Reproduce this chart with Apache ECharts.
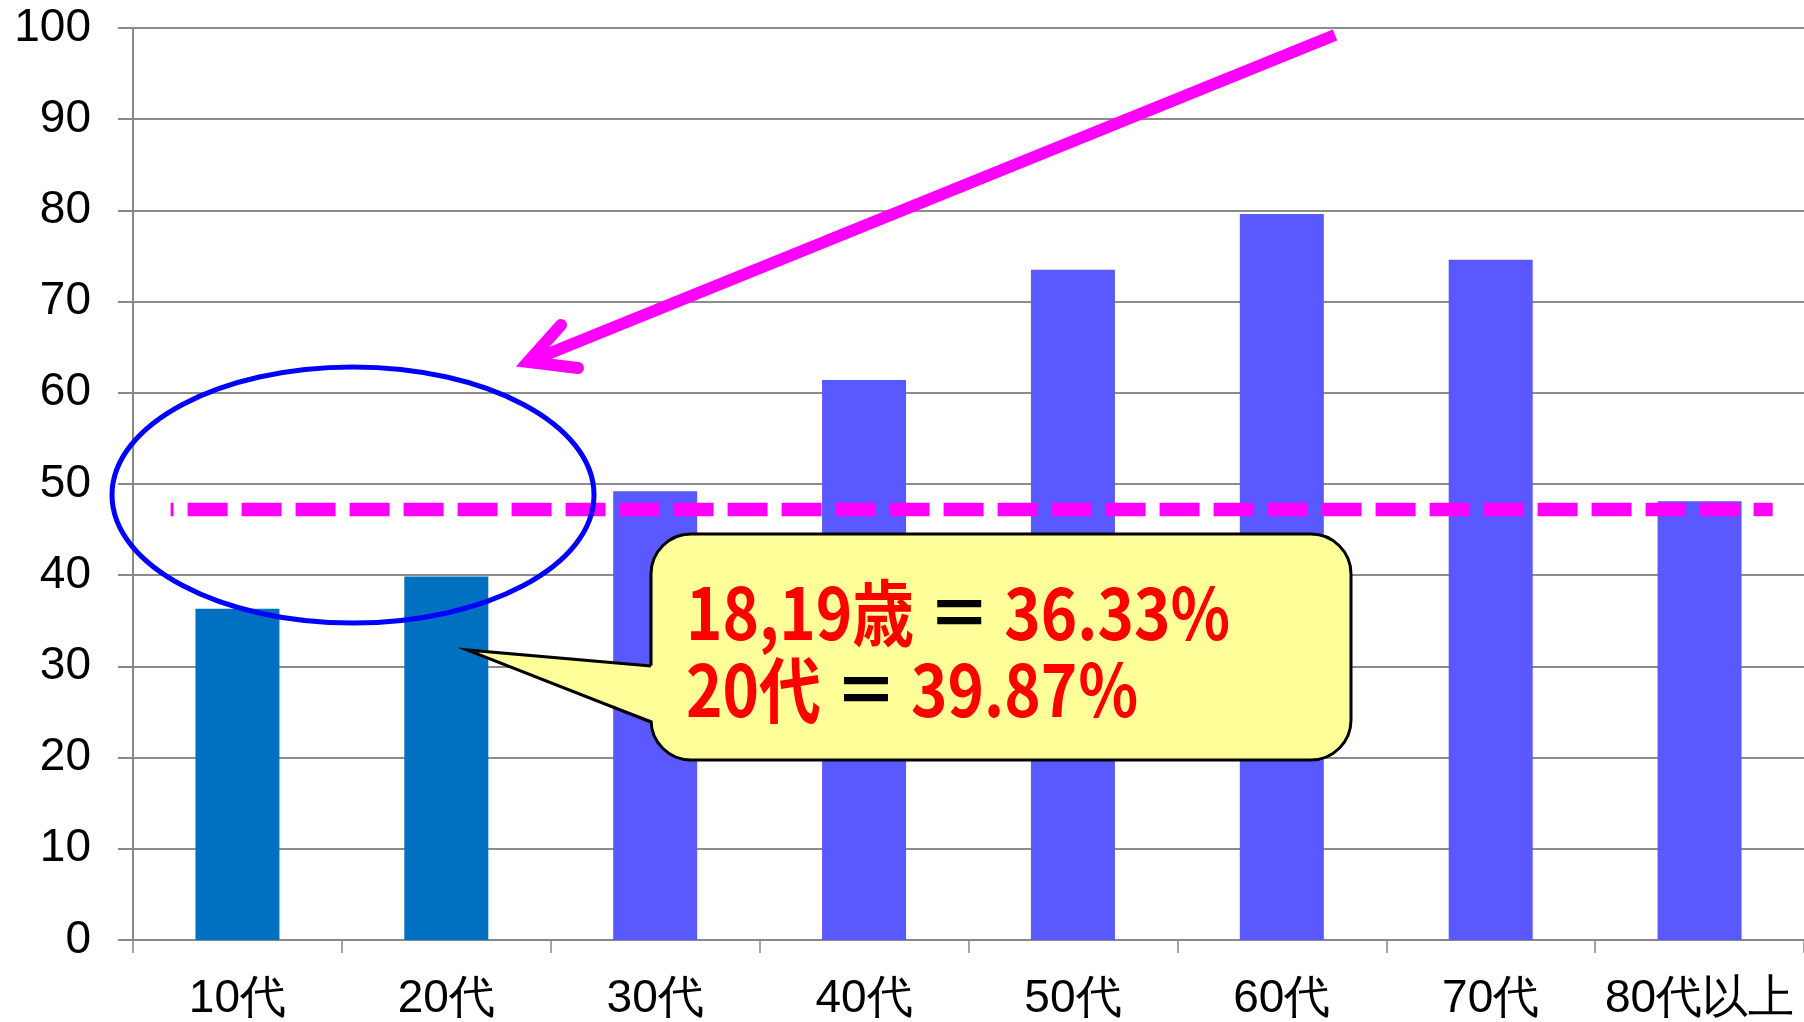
<!DOCTYPE html>
<html>
<head>
<meta charset="utf-8">
<script src="https://cdn.jsdelivr.net/npm/echarts@6/dist/echarts.min.js"></script>
<style>
  html, body { margin: 0; padding: 0; background: #fff; }
  #main { width: 1804px; height: 1022px; }
</style>
</head>
<body>
<div id="main"></div>
<script>
 // 年代別投票率
 var categories = ['10代', '20代', '30代', '40代', '50代', '60代', '70代', '80代以上'];
 var rates = [36.33, 39.87, 49.2, 61.4, 73.5, 79.6, 74.6, 48.1];
 var youngCount = 2;            // 10代・20代は色を変える
 var averageRate = 47.2;        // 全体の投票率（点線）
 var averageSpan = [0.18, 7.85]; // 点線の横の範囲（カテゴリ単位）
 var yMin = 0, yMax = 100, yStep = 10;

 var myChart = echarts.init(document.getElementById('main'));

 var barData = rates.map(function (v, i) {
    return {
        value: v,
        itemStyle: { color: i < youngCount ? '#0070C0' : '#5959FF' }
    };
 });

 var labelFont = { fontFamily: 'Liberation Sans', fontSize: 46, color: '#000' };
 var calloutRich = {
    r: { fontFamily: 'Noto Sans CJK JP', fontWeight: 'bold', fontSize: 72, fill: '#FF0000' },
    k: { fontFamily: 'Noto Sans CJK JP', fontWeight: 'bold', fontSize: 72, fill: '#000' }
 };

 var option = {
    animation: false,
    grid: { left: 133, top: 28, width: 1676, height: 912 },
    xAxis: [
        {
            type: 'category',
            data: categories,
            axisLine: { lineStyle: { color: '#888', width: 2 } },
            axisTick: { show: true, interval: 0, length: 13, lineStyle: { color: '#888', width: 1.5 } },
            axisLabel: Object.assign({ margin: 36, interval: 0 }, labelFont)
        },
        { type: 'value', min: 0, max: categories.length, show: false }
    ],
    yAxis: {
        type: 'value',
        min: yMin,
        max: yMax,
        interval: yStep,
        axisLine: { show: true, lineStyle: { color: '#888', width: 2 } },
        axisTick: { show: true, length: 15, lineStyle: { color: '#888', width: 2 } },
        splitLine: { lineStyle: { color: '#8c8c8c', width: 2 } },
        axisLabel: Object.assign({ margin: 42 }, labelFont)
    },
    series: [
        {
            type: 'bar',
            barWidth: 84,
            data: barData,
            z: 2
        },
        {
            type: 'line',
            xAxisIndex: 1,
            symbol: 'none',
            data: [[averageSpan[0], averageRate], [averageSpan[1], averageRate]],
            lineStyle: { color: '#FF00FF', width: 13.5, type: [40, 14], dashOffset: 37, cap: 'butt' },
            z: 4
        }
    ],
    graphic: [
        // 楕円
        {
            type: 'ellipse',
            shape: { cx: 353, cy: 495, rx: 241, ry: 128 },
            style: { fill: 'none', stroke: '#0000FF', lineWidth: 5 },
            z: 10
        },
        // 矢印
        {
            type: 'line',
            shape: { x1: 1335, y1: 35, x2: 528, y2: 362 },
            style: { stroke: '#FF00FF', lineWidth: 12, lineCap: 'butt' },
            z: 10
        },
        {
            type: 'polyline',
            shape: { points: [[561, 325], [528, 362], [578, 368]] },
            style: { stroke: '#FF00FF', lineWidth: 12, lineCap: 'round', lineJoin: 'miter', fill: 'none' },
            z: 10
        },
        // 吹き出し
        {
            type: 'rect',
            shape: { x: 651, y: 534, width: 700, height: 226, r: 40 },
            style: { fill: '#FFFF99', stroke: '#000', lineWidth: 3 },
            z: 10
        },
        {
            type: 'polygon',
            shape: { points: [[467, 650], [656, 666], [656, 722]] },
            style: { fill: '#FFFF99' },
            z: 11
        },
        {
            type: 'polyline',
            shape: { points: [[651, 666], [467, 650], [651, 722]] },
            style: { stroke: '#000', lineWidth: 3, fill: 'none', lineJoin: 'miter' },
            z: 11
        },
        {
            type: 'text',
            x: 686, y: 613,
            scaleX: 0.86,
            z: 12,
            style: {
                text: '{r|18,19歳} {k|＝} {r|36.33%}',
                verticalAlign: 'middle',
                rich: calloutRich,
                font: 'bold 72px "Noto Sans CJK JP"'
            }
        },
        {
            type: 'text',
            x: 686, y: 690,
            scaleX: 0.86,
            z: 12,
            style: {
                text: '{r|20代} {k|＝} {r|39.87％}',
                verticalAlign: 'middle',
                rich: calloutRich,
                font: 'bold 72px "Noto Sans CJK JP"'
            }
        }
    ]
 };

 myChart.setOption(option);
</script>
</body>
</html>
